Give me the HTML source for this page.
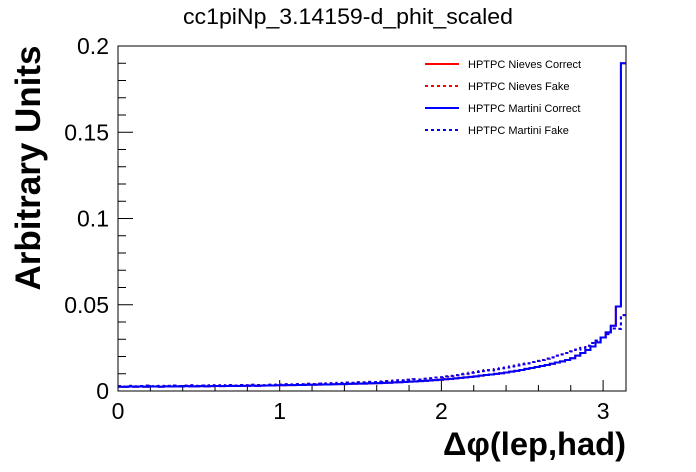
<!DOCTYPE html>
<html><head><meta charset="utf-8"><style>body{margin:0;background:#fff}svg{display:block;font-family:"Liberation Sans",sans-serif}</style></head>
<body>
<svg id="c" width="696" height="472" xmlns="http://www.w3.org/2000/svg">
<rect width="696" height="472" fill="#fff"/>
<text x="348" y="24" font-size="22" text-anchor="middle" textLength="330" lengthAdjust="spacingAndGlyphs">cc1piNp_3.14159-d_phit_scaled</text>
<text transform="translate(40,168) rotate(-90)" font-size="35" font-weight="bold" text-anchor="middle">Arbitrary Units</text>
<text x="626" y="455" font-size="32" font-weight="bold" text-anchor="end" textLength="183" lengthAdjust="spacingAndGlyphs">Δφ(lep,had)</text>
<g id="axes"></g>
<g id="series"></g>
<rect x="118" y="46" width="508" height="345" fill="none" stroke="#000" stroke-width="1"/>
<g id="legend"></g>
</svg>
<script>
const xTicks=[0,1,2,3];
const yTicks=[0,0.05,0.1,0.15,0.2];
const yTickLabels=["0","0.05","0.1","0.15","0.2"];
const solidVals=[.0025,.0024,.0026,.0025,.0026,.0025,.0026,.0026,.0025,.0027,
.0026,.0027,.0026,.0028,.0027,.0027,.0028,.0027,.0028,.0029,
.0028,.0029,.0030,.0029,.0030,.0030,.0031,.0030,.0031,.0032,
.0032,.0033,.0033,.0034,.0034,.0035,.0035,.0036,.0036,.0037,
.0038,.0038,.0039,.0040,.0040,.0041,.0042,.0043,.0043,.0044,
.0045,.0046,.0047,.0048,.0050,.0051,.0052,.0054,.0055,.0057,
.0059,.0061,.0063,.0065,.0068,.0070,.0073,.0076,.0079,.0082,
.0085,.0089,.0093,.0096,.0099,.0103,.0107,.0112,.0117,.0122,
.0128,.0133,.0139,.0145,.0151,.0158,.0165,.0172,.0180,.0190,
.0205,.0220,.0238,.0258,.0282,.0310,.0340,.0378,.0490,.1900];
const fakeVals=[.0028,.0026,.0030,.0027,.0029,.0031,.0027,.0029,.0030,.0028,
.0030,.0032,.0029,.0031,.0033,.0030,.0032,.0031,.0033,.0030,
.0033,.0031,.0034,.0032,.0035,.0033,.0036,.0034,.0033,.0036,
.0035,.0038,.0036,.0039,.0037,.0040,.0039,.0042,.0040,.0043,
.0042,.0045,.0043,.0047,.0046,.0049,.0047,.0051,.0050,.0053,
.0052,.0055,.0057,.0056,.0060,.0062,.0061,.0065,.0068,.0067,
.0071,.0074,.0078,.0080,.0085,.0088,.0092,.0097,.0100,.0106,
.0110,.0115,.0121,.0119,.0127,.0132,.0136,.0143,.0148,.0155,
.0160,.0168,.0175,.0180,.0188,.0195,.0205,.0212,.0220,.0230,
.0240,.0250,.0262,.0278,.0292,.0310,.0330,.0362,.0360,.0440];
const legendLabels=["HPTPC Nieves Correct","HPTPC Nieves Fake","HPTPC Martini Correct","HPTPC Martini Fake"];
const XMAX=Math.PI,YMAX=0.2;
const X0=118,X1=626,Y0=391,Y1=46;
const sx=v=>X0+(X1-X0)*v/XMAX, sy=v=>Y0-(Y0-Y1)*v/YMAX;
const NS="http://www.w3.org/2000/svg";
function mk(t,a,p){const e=document.createElementNS(NS,t);for(const k in a)e.setAttribute(k,a[k]);p.appendChild(e);return e;}
const ax=document.getElementById('axes');
for(let i=0;i<=15;i++){const v=i*0.2;if(v>XMAX)break;const major=i%5===0;
 const l=mk('line',{x1:sx(v),x2:sx(v),y1:Y0,y2:Y0-(major?11:6),stroke:'#000'},ax);
 
 }
xTicks.forEach(v=>{const t=mk('text',{x:sx(v),y:419,'font-size':23,'text-anchor':'middle'},ax);t.textContent=v;
 
 });
for(let i=0;i<=20;i++){const v=i*0.01;const major=i%5===0;
 const l=mk('line',{x1:X0,x2:X0+(major?15:8),y1:sy(v),y2:sy(v),stroke:'#000'},ax);
 
 }
yTicks.forEach((v,i)=>{const t=mk('text',{x:109,y:sy(v)+8,'font-size':23,'text-anchor':'end'},ax);t.textContent=yTickLabels[i];
 
 });
function path(vals){const n=vals.length,w=XMAX/n;let d='M'+sx(0)+','+sy(vals[0]);
 vals.forEach((v,i)=>{d+=' L'+sx(i*w)+','+sy(v)+' L'+sx((i+1)*w)+','+sy(v);});
 return d;}
const sg=document.getElementById('series');
const series=[["nieves-correct-line",solidVals,'#f00',''],["nieves-fake-line",fakeVals,'#f00','3,3'],["martini-correct-line",solidVals,'#00f',''],["martini-fake-line",fakeVals,'#00f','3,3']];
series.forEach(s=>{const p=mk('path',{d:path(s[1]),fill:'none',stroke:s[2],'stroke-width':2,'stroke-dasharray':s[3]},sg);
 
 });
const lg=document.getElementById('legend');
legendLabels.forEach((lab,i)=>{const y=64+i*22;
 const l=mk('line',{x1:425,x2:459,y1:y,y2:y,stroke:series[i][2],'stroke-width':2,'stroke-dasharray':series[i][3]},lg);
 
 
 const t=mk('text',{x:468,y:y+4,'font-size':11},lg);t.textContent=lab;
 
 });
</script>
</body></html>
